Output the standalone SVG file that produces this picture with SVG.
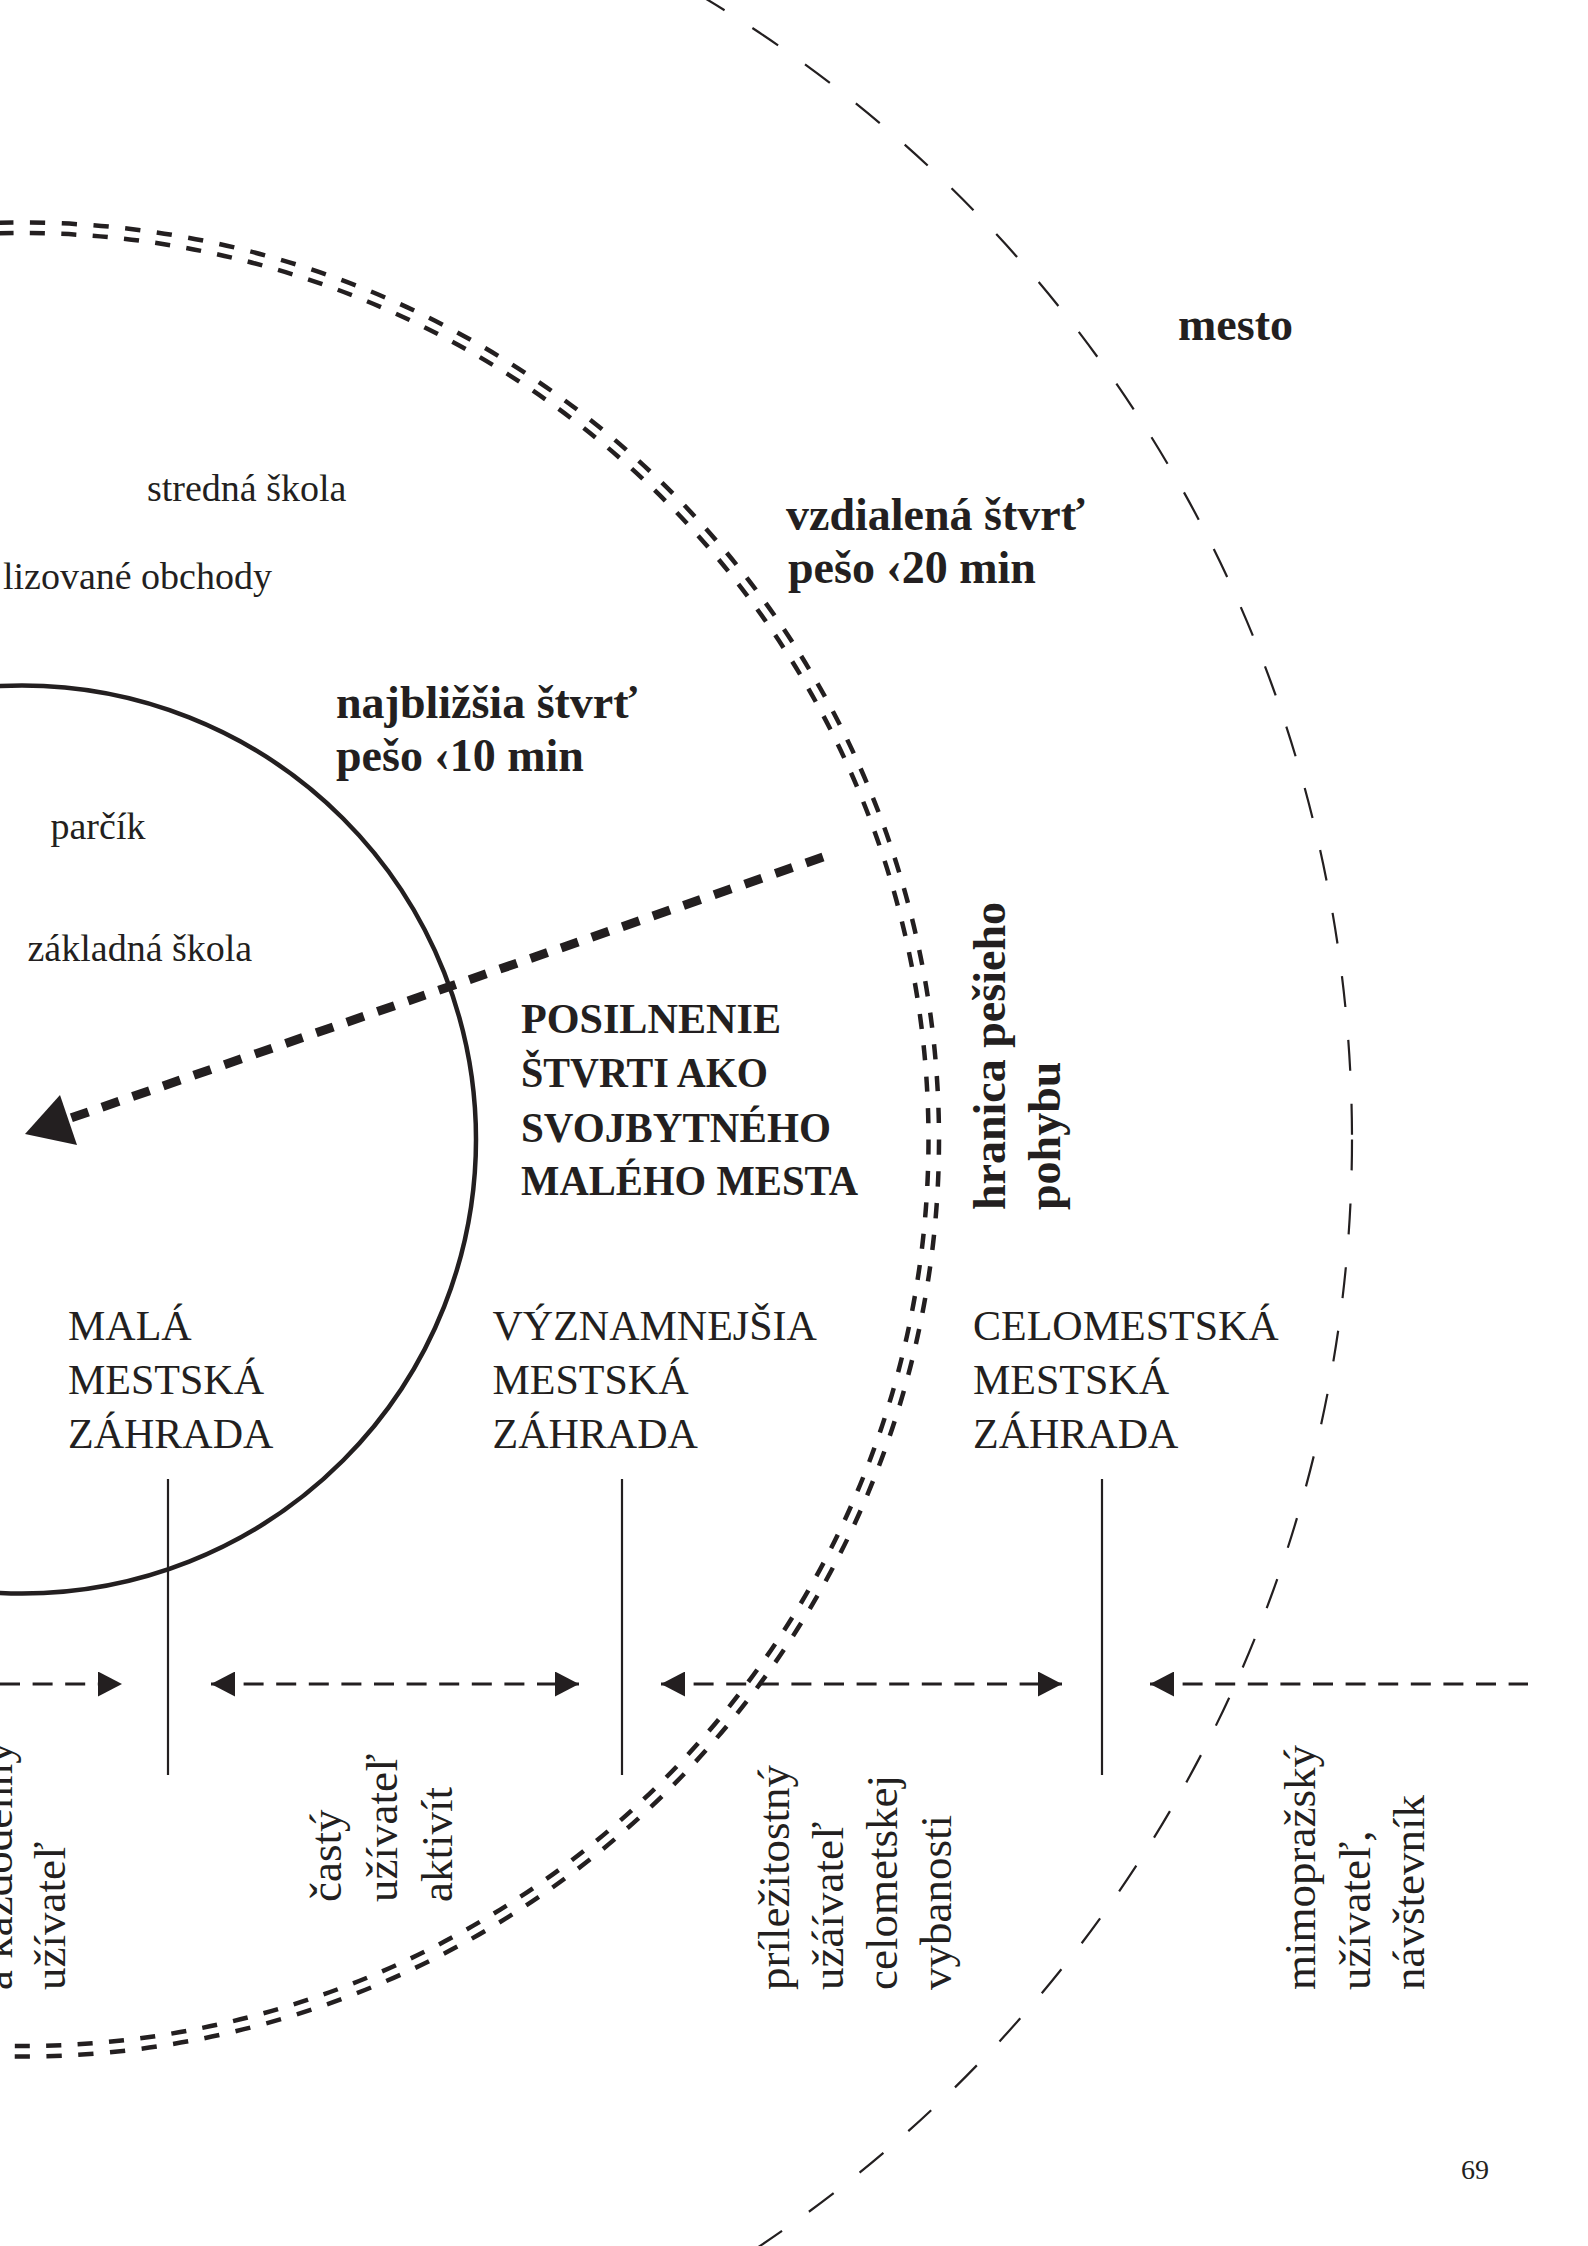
<svg xmlns="http://www.w3.org/2000/svg" width="1588" height="2246" viewBox="0 0 1588 2246">
  <style>
    text { font-family: "Liberation Serif", "Times New Roman", serif; fill: #231f20; }
    .b { font-weight: bold; font-size: 46px; }
    .cap { font-weight: bold; font-size: 43px; }
    .lbl { font-size: 42px; }
    .sm { font-size: 38px; }
    .rot { font-size: 45px; }
    .pg { font-size: 28px; }
    .ring { fill: none; stroke: #231f20; }
    .dbl { stroke-width: 4.5; stroke-dasharray: 0.48 0.52; }
    .sep { stroke: #231f20; stroke-width: 2.2; }
    .harrow { stroke: #231f20; stroke-width: 3; stroke-dasharray: 20 12.6; fill: none; }
  </style>
  <defs>
    <marker id="ah" viewBox="0 0 24 25" refX="24" refY="12.5" markerWidth="24" markerHeight="25" markerUnits="userSpaceOnUse" orient="auto-start-reverse">
      <path d="M0,0 L24,12.5 L0,25 Z" fill="#231f20"/>
    </marker>
  </defs>
  <rect width="1588" height="2246" fill="#ffffff"/>

  <g id="zones">
    <circle id="zone-city" class="ring" cx="22" cy="1139.5" r="1330" stroke-width="2.2" stroke-dasharray="31 33"/>
    <g id="zone-walk-boundary">
      <circle class="ring dbl" cx="22" cy="1139.5" r="917" pathLength="181"/>
      <circle class="ring dbl" cx="22" cy="1139.5" r="906.5" pathLength="181"/>
    </g>
    <circle id="zone-nearest" class="ring" cx="22" cy="1139.5" r="454" stroke-width="4.5"/>
  </g>

  <g id="connectors">
    <line x1="823" y1="857" x2="68" y2="1119" stroke="#231f20" stroke-width="9" stroke-dasharray="18 14.4"/>
    <polygon points="25,1134 60,1095 77,1145" fill="#231f20"/>
    <line class="harrow" x1="0" y1="1684" x2="122" y2="1684" marker-end="url(#ah)"/>
    <line class="harrow" x1="211" y1="1684" x2="579" y2="1684" marker-start="url(#ah)" marker-end="url(#ah)"/>
    <line class="harrow" x1="661" y1="1684" x2="1062" y2="1684" marker-start="url(#ah)" marker-end="url(#ah)"/>
    <line class="harrow" x1="1150" y1="1684" x2="1528" y2="1684" marker-start="url(#ah)"/>
    <line class="sep" x1="168" y1="1479" x2="168" y2="1775"/>
    <line class="sep" x1="622" y1="1479" x2="622" y2="1775"/>
    <line class="sep" x1="1102" y1="1479" x2="1102" y2="1775"/>
  </g>

  <g id="label-mesto"><text class="b" x="1178" y="340">mesto</text></g>
  <g id="label-vzdialena">
    <text class="b" x="786" y="530">vzdialená štvrť</text>
    <text class="b" x="788" y="583">pešo ‹20 min</text>
  </g>
  <g id="label-najblizsia">
    <text class="b" x="336" y="718">najbližšia štvrť</text>
    <text class="b" x="336" y="771">pešo ‹10 min</text>
  </g>
  <g id="label-posilnenie">
    <text class="cap" x="521" y="1033" textLength="260" lengthAdjust="spacingAndGlyphs">POSILNENIE</text>
    <text class="cap" x="521" y="1087" textLength="247" lengthAdjust="spacingAndGlyphs">ŠTVRTI AKO</text>
    <text class="cap" x="521" y="1142" textLength="310" lengthAdjust="spacingAndGlyphs">SVOJBYTNÉHO</text>
    <text class="cap" x="521" y="1195" textLength="337" lengthAdjust="spacingAndGlyphs">MALÉHO MESTA</text>
  </g>
  <g id="label-hranica">
    <text class="b" transform="translate(1005,1210) rotate(-90)">hranica pešieho</text>
    <text class="b" transform="translate(1060,1210) rotate(-90)">pohybu</text>
  </g>

  <g id="places">
    <text class="sm" x="147" y="501">stredná škola</text>
    <text class="sm" x="272" y="589" text-anchor="end">lizované obchody</text>
    <text class="sm" x="50.5" y="839">parčík</text>
    <text class="sm" x="27.5" y="961">základná škola</text>
  </g>

  <g id="node-mala">
    <text class="lbl" x="68" y="1340">MALÁ</text>
    <text class="lbl" x="68" y="1394">MESTSKÁ</text>
    <text class="lbl" x="68" y="1448">ZÁHRADA</text>
  </g>
  <g id="node-vyznamnejsia">
    <text class="lbl" x="492.5" y="1340">VÝZNAMNEJŠIA</text>
    <text class="lbl" x="492.5" y="1394">MESTSKÁ</text>
    <text class="lbl" x="492.5" y="1448">ZÁHRADA</text>
  </g>
  <g id="node-celomestska">
    <text class="lbl" x="973" y="1340">CELOMESTSKÁ</text>
    <text class="lbl" x="973" y="1394">MESTSKÁ</text>
    <text class="lbl" x="973" y="1448">ZÁHRADA</text>
  </g>

  <g id="users-daily">
    <text class="rot" transform="translate(11.5,1990) rotate(-90)">a každodenný</text>
    <text class="rot" transform="translate(65,1990) rotate(-90)">užívateľ</text>
  </g>
  <g id="users-frequent">
    <text class="rot" transform="translate(341,1902) rotate(-90)">častý</text>
    <text class="rot" transform="translate(397,1902) rotate(-90)">užívateľ</text>
    <text class="rot" transform="translate(451.5,1902) rotate(-90)">aktivít</text>
  </g>
  <g id="users-occasional">
    <text class="rot" transform="translate(788.5,1990) rotate(-90)">príležitostný</text>
    <text class="rot" transform="translate(843,1990) rotate(-90)">užáívateľ</text>
    <text class="rot" transform="translate(896.5,1990) rotate(-90)">celometskej</text>
    <text class="rot" transform="translate(951,1990) rotate(-90)">vybanosti</text>
  </g>
  <g id="users-visitor">
    <text class="rot" transform="translate(1315,1990) rotate(-90)">mimopražský</text>
    <text class="rot" transform="translate(1370,1990) rotate(-90)">užívateľ,</text>
    <text class="rot" transform="translate(1424,1990) rotate(-90)">návštevník</text>
  </g>

  <text class="pg" x="1461" y="2179">69</text>
</svg>
